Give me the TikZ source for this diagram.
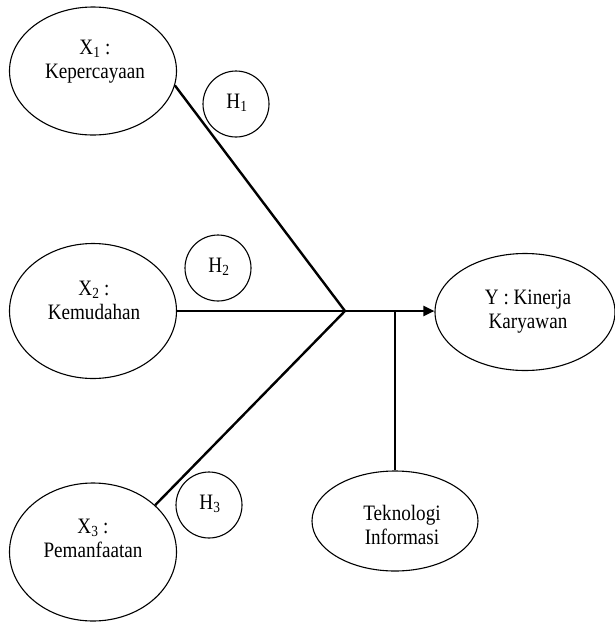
\documentclass[tikz,border=0pt]{standalone}
\usepackage{fontspec}
\setmainfont{Liberation Serif}[FakeStretch=0.87]
\usetikzlibrary{shapes.geometric,arrows.meta}
\tikzset{
  var/.style={ellipse,draw=black,line width=1.1pt,inner sep=0pt},
  hyp/.style={circle,draw=black,line width=1.1pt,inner sep=0pt,minimum size=66pt},
  lbl/.style={align=center,inner sep=0pt,font=\fontsize{22}{24}\selectfont},
  conn/.style={line width=2.4pt,draw=black},
}
\begin{document}
\begin{tikzpicture}[x=1pt,y=-1pt]
\useasboundingbox (0,0) rectangle (615,622);
% variable ellipses
\node[var,minimum width=167pt,minimum height=128pt] (x1) at (93,71) {};
\node[var,minimum width=167pt,minimum height=135pt] (x2) at (93,311) {};
\node[var,minimum width=167pt,minimum height=138pt] (x3) at (93,552) {};
\node[var,minimum width=180pt,minimum height=117pt] (y) at (525,312) {};
\node[var,minimum width=166pt,minimum height=100pt] (ti) at (395,521) {};
% texts
\node[lbl] (tx1) at (95,62) {X\textsubscript{1} :\\Kepercayaan};
\node[lbl] (tx2) at (94,300) {X\textsubscript{2} :\\Kemudahan};
\node[lbl] (tx3) at (93,538) {X\textsubscript{3} :\\Pemanfaatan};
\node[lbl] (ty) at (528,312) {Y : Kinerja\\Karyawan};
\node[lbl] (tti) at (402,525) {Teknologi\\Informasi};
% hypothesis circles
\node[hyp] (h1) at (236,104) {};
\node[lbl] (th1) at (237,103) {H\textsubscript{1}};
\node[hyp] (h2) at (218,268) {};
\node[lbl] (th2) at (219,267) {H\textsubscript{2}};
\node[hyp] (h3) at (209,505) {};
\node[lbl] (th3) at (210,504) {H\textsubscript{3}};
% connectors
\coordinate (J) at (345,311);
\coordinate (T) at (395,311);
\draw[conn] (x1.-10) -- (J);
\draw[conn] (x2.east) -- (J);
\draw[conn] (x3.37) -- (J);
\draw[conn,-{Triangle[length=11pt,width=10pt]}] (J) -- (J -| y.west);
\draw[conn] (T) -- (ti.north);
\end{tikzpicture}
\end{document}
